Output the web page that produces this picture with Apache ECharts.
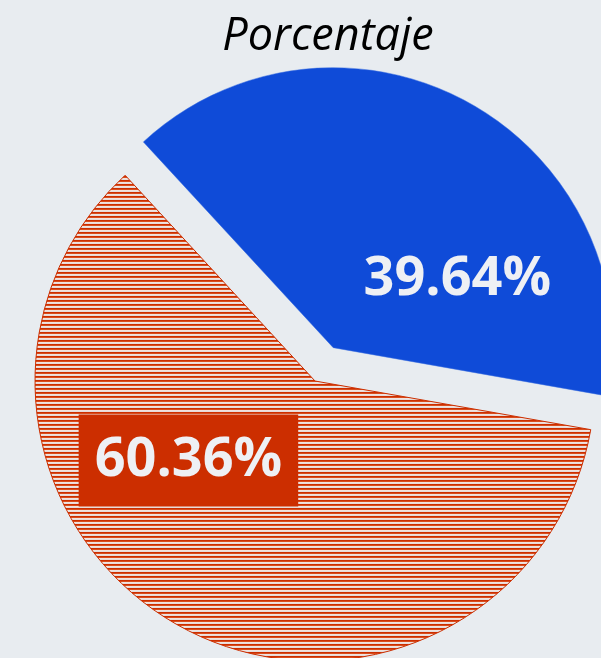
<!DOCTYPE html>
<html>
<head>
<meta charset="utf-8">
<script src="https://cdn.jsdelivr.net/npm/echarts@6/dist/echarts.min.js"></script>
<style>
  html, body { margin: 0; padding: 0; background: #e8ecf0; }
  #chart { width: 601px; height: 658px; }
</style>
</head>
<body>
<div id="chart"></div>
<script>
const categories = ['Azul', 'Rojo'];
const values = [39.64, 60.36];
const labels = ['39.64%', '60.36%'];

// horizontal stripe fill for the red slice
const stripe = document.createElement('canvas');
stripe.width = 4;
stripe.height = 4;
const sctx = stripe.getContext('2d');
const rows = ['#cc2e00', '#da4d1c', '#f1e3df', '#e6dcda'];
rows.forEach((c, i) => {
    sctx.fillStyle = c;
    sctx.fillRect(0, i, 4, 1);
});

const myChart = echarts.init(document.getElementById('chart'), null, { renderer: 'canvas' });

const blueLabel = {
    show: true,
    position: 'inside',
    formatter: labels[0],
    offset: [79, 48],
    color: '#eef0f4',
    fontFamily: 'Open Sans',
    fontWeight: 'bold',
    fontSize: 54
};

const option = {
    backgroundColor: '#e8ecf0',
    animation: false,
    title: {
        text: 'Porcentaje',
        left: 323,
        top: 10,
        textAlign: 'center',
        textStyle: {
            fontFamily: 'Open Sans',
            fontStyle: 'italic',
            fontWeight: 'normal',
            fontSize: 45,
            color: '#000'
        }
    },
    series: [
        {
            type: 'pie',
            center: [315, 381],
            radius: 280,
            startAngle: 132.7,
            clockwise: true,
            selectedMode: 'single',
            selectedOffset: 38,
            emphasis: { disabled: true },
            labelLine: { show: false },
            data: [
                {
                    name: categories[0],
                    value: values[0],
                    selected: true,
                    itemStyle: { color: '#0f4bd8', borderColor: '#3a6ee0', borderWidth: 0.5 },
                    label: blueLabel,
                    select: { label: blueLabel }
                },
                {
                    name: categories[1],
                    value: values[1],
                    itemStyle: {
                        color: { image: stripe, repeat: 'repeat' },
                        borderColor: '#cc2e00',
                        borderWidth: 1
                    },
                    label: {
                        show: true,
                        position: 'inside',
                        formatter: labels[1],
                        offset: [-58, -46],
                        color: '#eef0f4',
                        backgroundColor: '#cc2e00',
                        padding: [20, 16, 18, 16],
                        fontFamily: 'Open Sans',
                        fontWeight: 'bold',
                        fontSize: 54
                    }
                }
            ]
        }
    ]
};

myChart.setOption(option);
</script>
</body>
</html>
